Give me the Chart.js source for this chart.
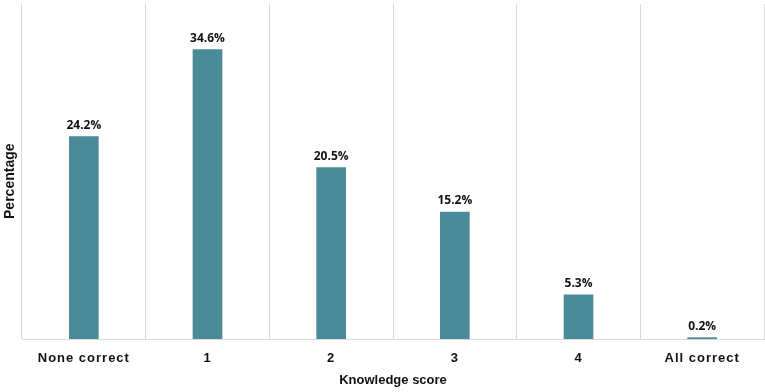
<!DOCTYPE html>
<html lang="en">
<head>
  <meta charset="UTF-8" />
  <title>Knowledge score</title>
  <style>
    html, body {
      margin: 0;
      padding: 0;
      background: #fff;
    }
    .chart-wrap {
      width: 765px;
      height: 392px;
    }
  </style>
  <script src="https://cdn.jsdelivr.net/npm/chart.js"></script>
</head>
<body>
  <div class="chart-wrap">
    <canvas id="chart"></canvas>
  </div>
  <script>
    const categories = ['None correct', '1', '2', '3', '4', 'All correct'];
    const percentages = [24.2, 34.6, 20.5, 15.2, 5.3, 0.2];

    // draws the value above each bar
    const valueLabels = {
      id: 'valueLabels',
      afterDatasetsDraw(chart) {
        const ctx = chart.ctx;
        const meta = chart.getDatasetMeta(0);
        ctx.save();
        ctx.font = 'bold 12px "Open Sans", sans-serif';
        ctx.fillStyle = '#111';
        ctx.textAlign = 'center';
        ctx.textBaseline = 'bottom';
        meta.data.forEach((bar, i) => {
          ctx.fillText(percentages[i].toFixed(1) + '%', bar.x, bar.y - 5);
        });
        ctx.restore();
      }
    };

    // letter spaced tick labels on the x axis
    const spacedTicks = {
      id: 'spacedTicks',
      beforeDraw(chart) {
        const x = chart.scales.x;
        if (x._spaced) return;
        const orig = x.drawLabels;
        x.drawLabels = function (area) {
          chart.ctx.save();
          chart.ctx.letterSpacing = '1px';
          orig.call(this, area);
          chart.ctx.restore();
        };
        x._spaced = true;
      }
    };

    new Chart(document.getElementById('chart'), {
      type: 'bar',
      data: {
        labels: categories,
        datasets: [{
          label: 'Percentage',
          data: percentages,
          backgroundColor: '#4a8a99',
          barPercentage: 0.24,
          categoryPercentage: 1
        }]
      },
      options: {
        responsive: true,
        maintainAspectRatio: false,
        animation: false,
        layout: { padding: { top: 4, right: 1, bottom: 0, left: 0 } },
        plugins: {
          legend: { display: false },
          tooltip: { enabled: false }
        },
        scales: {
          x: {
            afterFit(scale) { scale.height = 53; },
            grid: { display: true, offset: true, color: '#d9d9d9', drawTicks: false },
            border: { display: true, color: '#d9d9d9' },
            ticks: {
              color: '#111',
              padding: 12,
              font: { family: 'Arial', size: 13, weight: 'bold' }
            },
            title: {
              display: true,
              text: 'Knowledge score',
              color: '#111',
              padding: { top: 0, bottom: 4 },
              font: { family: 'Arial', size: 13, weight: 'bold' }
            }
          },
          y: {
            min: 0,
            max: 40,
            afterFit(scale) { scale.width = 22; },
            grid: { display: false },
            border: { display: false },
            ticks: { display: false },
            title: {
              display: true,
              // trailing spaces nudge the rotated title a bit lower
              text: 'Percentage     ',
              color: '#111',
              padding: { top: 2, bottom: 2 },
              font: { family: 'Arial', size: 14, weight: 'bold' }
            }
          }
        }
      },
      plugins: [valueLabels, spacedTicks]
    });
  </script>
</body>
</html>
